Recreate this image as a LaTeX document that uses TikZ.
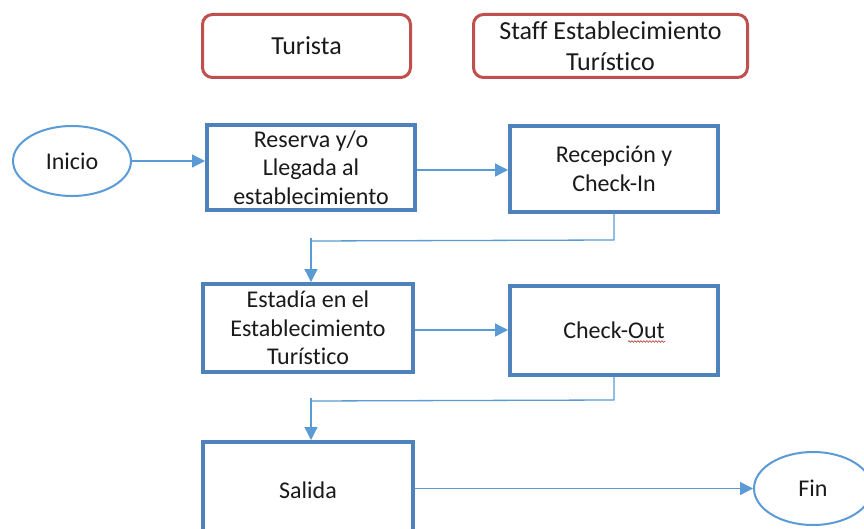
\documentclass[tikz,border=0pt]{standalone}
\usepackage{fontspec}
\setmainfont{Carlito}[Ligatures={NoCommon}]
\usetikzlibrary{arrows.meta,shapes.geometric,decorations.pathmorphing}
\definecolor{redline}{HTML}{C0504D}
\definecolor{boxblue}{HTML}{4F81BD}
\definecolor{lineblue}{HTML}{5B9BD5}
\definecolor{txt}{HTML}{1A1A1A}
\tikzset{
  lane/.style={draw=redline, line width=3pt, rounded corners=10pt, minimum width=208pt, minimum height=63pt, inner sep=0pt, align=center, text=txt, font=\fontsize{26}{31}\selectfont},
  stepbox/.style={draw=boxblue, line width=4pt, minimum width=208pt, inner sep=0pt, align=center, text=txt, font=\fontsize{24}{28.5}\selectfont},
  term/.style={ellipse, draw=lineblue, line width=2pt, minimum width=118pt, minimum height=70pt, inner sep=0pt, text=txt, font=\fontsize{24}{28.5}\selectfont},
  conn/.style={draw=lineblue, line width=1.3pt},
  arr/.style={conn, -{Triangle[length=13pt,width=13pt]}}
}
\begin{document}
\begin{tikzpicture}[x=1pt,y=-1pt]
\useasboundingbox (0,0) rectangle (864,529);
\clip (0,0) rectangle (864,529);
\fill[white] (0,0) rectangle (864,529);
% lanes
\node[lane] (turista) at (306.5,46) {Turista};
\node[lane, minimum width=274pt] (staff) at (610.5,46) {Staff Establecimiento\\Turístico};
% terminals
\node[term] (inicio) at (72,161) {Inicio};
\node[term, minimum height=73pt] (fin) at (813,488.5) {Fin};
% steps
\node[stepbox, minimum height=85pt] (reserva) at (311,167.5) {Reserva y/o\\Llegada al\\establecimiento};
\node[stepbox, minimum height=86pt] (recepcion) at (614,169) {Recepción y\\Check-In};
\node[stepbox, minimum width=210pt, minimum height=88pt] (estadia) at (308,328) {Estadía en el\\Establecimiento\\Turístico};
\node[stepbox, minimum height=89pt] (checkout) at (614,330.5) {Check-Out};
\node[stepbox, minimum width=210pt, minimum height=96pt] (salida) at (308,490) {Salida};
% spelling squiggle
\draw[redline, line width=0.7pt, decorate, decoration={snake, amplitude=0.8pt, segment length=3pt}] (628,341.5) -- (665,341.5);
% connectors
\draw[arr] (inicio.east) -- (inicio.east -| reserva.west);
\draw[arr] (reserva.east |- 0,170) -- (reserva.east |- 0,170 -| recepcion.west);
\coordinate (k1) at (614,240);
\coordinate (k2) at (311,241);
\draw[conn] (recepcion.south) -- (k1) -- (k2);
\draw[conn] (311,238) -- (k2);
\draw[arr] (k2) -- (k2 |- estadia.north);
\draw[arr] (estadia.east |- 0,330) -- (estadia.east |- 0,330 -| checkout.west);
\coordinate (k3) at (614,400);
\coordinate (k4) at (311,401);
\draw[conn] (checkout.south) -- (k3) -- (k4);
\draw[conn] (311,398) -- (k4);
\draw[arr] (k4) -- (k4 |- salida.north);
\draw[arr] (fin.west -| salida.east) -- (fin.west);
\end{tikzpicture}
\end{document}
